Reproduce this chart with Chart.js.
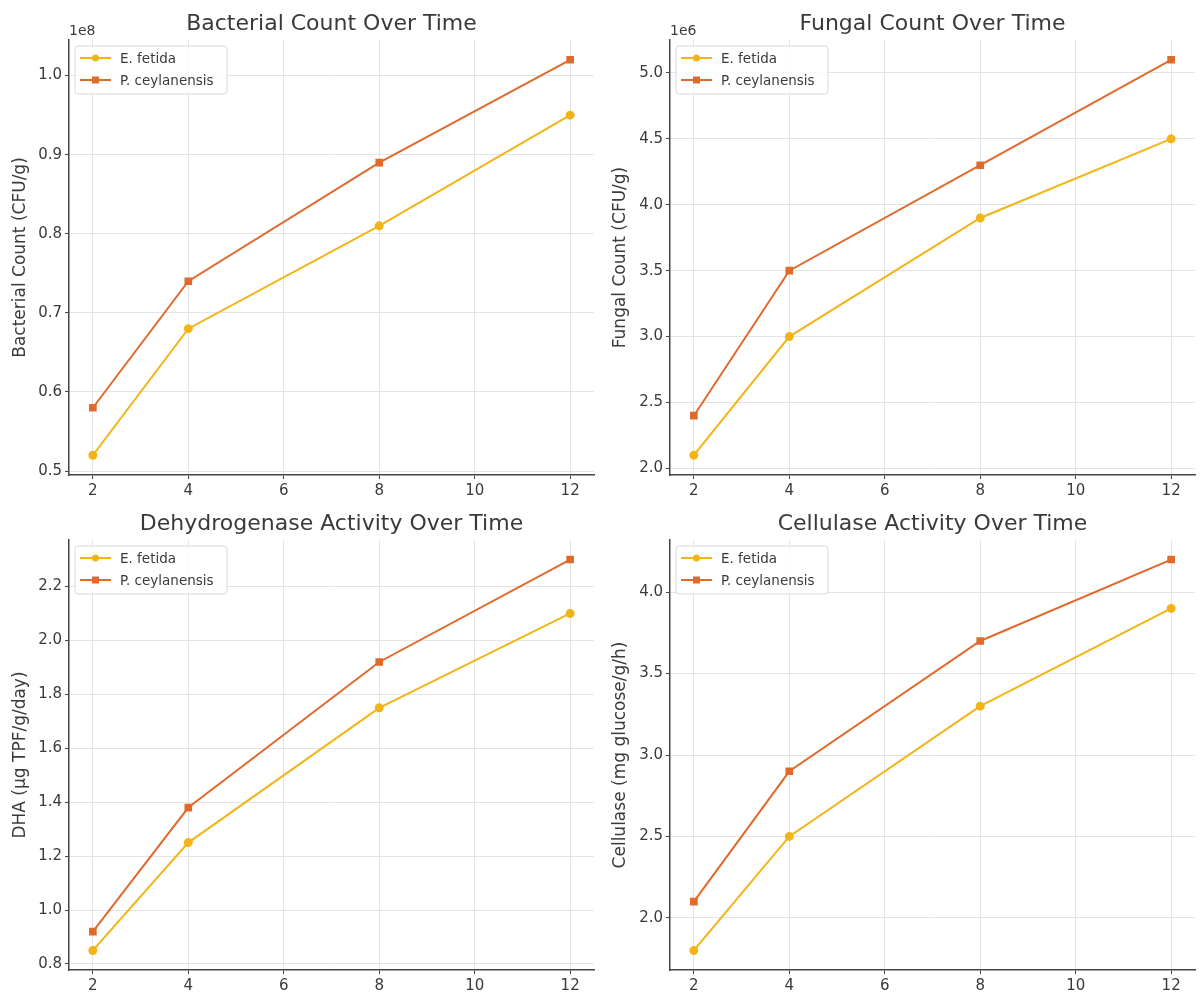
<!DOCTYPE html>
<html lang="en">
<head>
<meta charset="UTF-8">
<title>Microbial Counts and Enzyme Activity Over Time</title>
<script src="https://cdn.jsdelivr.net/npm/chart.js@4"></script>
<style>
  html, body { margin: 0; padding: 0; background: #fff; }
  #grid { position: relative; width: 1201px; height: 996px; }
  .panel { position: absolute; }
</style>
</head>
<body>
<div id="grid">
  <div class="panel" style="left:0;top:0;width:600px;height:498px"><canvas id="bacteria"></canvas></div>
  <div class="panel" style="left:600px;top:0;width:601px;height:498px"><canvas id="fungi"></canvas></div>
  <div class="panel" style="left:0;top:498px;width:600px;height:498px"><canvas id="dha"></canvas></div>
  <div class="panel" style="left:600px;top:498px;width:601px;height:498px"><canvas id="cellulase"></canvas></div>
</div>
<script>
// sampling weeks
const weeks = [2, 4, 8, 12];
const xTicks = [2, 4, 6, 8, 10, 12];
const seriesNames = ['E. fetida', 'P. ceylanensis'];

// bacterial count, CFU/g
const bacteriaEF = [52e6, 68e6, 81e6, 95e6];
const bacteriaPC = [58e6, 74e6, 89e6, 102e6];
const bacteriaTicks = [50e6, 60e6, 70e6, 80e6, 90e6, 100e6];

// fungal count, CFU/g
const fungiEF = [2.1e6, 3.0e6, 3.9e6, 4.5e6];
const fungiPC = [2.4e6, 3.5e6, 4.3e6, 5.1e6];
const fungiTicks = [2.0e6, 2.5e6, 3.0e6, 3.5e6, 4.0e6, 4.5e6, 5.0e6];

// dehydrogenase activity, µg TPF/g/day
const dhaEF = [0.85, 1.25, 1.75, 2.10];
const dhaPC = [0.92, 1.38, 1.92, 2.30];
const dhaTicks = [0.8, 1.0, 1.2, 1.4, 1.6, 1.8, 2.0, 2.2];

// cellulase activity, mg glucose/g/h
const cellEF = [1.8, 2.5, 3.3, 3.9];
const cellPC = [2.1, 2.9, 3.7, 4.2];
const cellTicks = [2.0, 2.5, 3.0, 3.5, 4.0];

const colorEF = '#f3b417';
const colorPC = '#e06a2c';
const textColor = '#3a3a3a';

Chart.defaults.font.family = '"DejaVu Sans", sans-serif';
Chart.defaults.color = textColor;

// matplotlib-ish extras: centred title, offset text (1e8), boxed legend
const mplExtras = {
  id: 'mplExtras',
  afterDatasetsDraw(chart, args, o) {
    const ctx = chart.ctx;
    const ca = chart.chartArea;
    ctx.save();
    ctx.fillStyle = textColor;
    ctx.font = '22px "DejaVu Sans"';
    ctx.textAlign = 'center';
    ctx.textBaseline = 'alphabetic';
    ctx.fillText(o.title, (ca.left + ca.right) / 2, ca.top - 10);

    ctx.textAlign = 'left';
    if (o.offset) {
      ctx.font = '14px "DejaVu Sans"';
      ctx.fillText(o.offset, ca.left, ca.top - 5);
    }

    // legend box
    const bx = ca.left + 6, by = ca.top + 6, bw = 152, bh = 48;
    ctx.beginPath();
    ctx.roundRect(bx, by, bw, bh, 3);
    ctx.fillStyle = 'rgba(255,255,255,0.85)';
    ctx.fill();
    ctx.strokeStyle = '#d9d9d9';
    ctx.lineWidth = 1;
    ctx.stroke();
    ctx.font = '13.5px "DejaVu Sans"';
    ctx.textBaseline = 'middle';
    chart.data.datasets.forEach((ds, i) => {
      const y = by + 12 + i * 22;
      ctx.strokeStyle = ds.borderColor;
      ctx.lineWidth = 2;
      ctx.beginPath();
      ctx.moveTo(bx + 5, y);
      ctx.lineTo(bx + 36, y);
      ctx.stroke();
      ctx.fillStyle = ds.pointBackgroundColor;
      if (ds.pointStyle === 'rect') {
        ctx.fillRect(bx + 20.5 - 3.5, y - 3.5, 7, 7);
      } else {
        ctx.beginPath();
        ctx.arc(bx + 20.5, y, 3.5, 0, Math.PI * 2);
        ctx.fill();
      }
      ctx.fillStyle = textColor;
      ctx.fillText(ds.label, bx + 45, y + 1);
    });
    ctx.restore();
  }
};

function toPoints(ys) {
  return weeks.map((w, i) => ({ x: w, y: ys[i] }));
}

function makePanel(id, cfg) {
  const all = cfg.ef.concat(cfg.pc);
  const lo = Math.min(...all), hi = Math.max(...all);
  const margin = (hi - lo) * 0.05;
  const canvasW = cfg.width, canvasH = 498;

  new Chart(document.getElementById(id), {
    type: 'line',
    data: {
      datasets: [
        {
          label: seriesNames[0],
          data: toPoints(cfg.ef),
          borderColor: colorEF,
          backgroundColor: colorEF,
          pointBackgroundColor: colorEF,
          pointBorderColor: colorEF,
          pointStyle: 'circle',
          pointRadius: 3.5,
          borderWidth: 2,
          tension: 0
        },
        {
          label: seriesNames[1],
          data: toPoints(cfg.pc),
          borderColor: colorPC,
          backgroundColor: colorPC,
          pointBackgroundColor: colorPC,
          pointBorderColor: colorPC,
          pointStyle: 'rect',
          pointRadius: 4,
          borderWidth: 2,
          tension: 0
        }
      ]
    },
    options: {
      responsive: true,
      maintainAspectRatio: false,
      animation: false,
      devicePixelRatio: 1,
      layout: {
        padding: { top: cfg.top, right: canvasW - cfg.right, bottom: 0, left: 0 }
      },
      plugins: {
        legend: { display: false },
        title: { display: false },
        tooltip: { enabled: false },
        mplExtras: { title: cfg.title, offset: cfg.offset }
      },
      scales: {
        x: {
          type: 'linear',
          min: 1.5,
          max: 12.5,
          afterBuildTicks: s => { s.ticks = xTicks.map(v => ({ value: v })); },
          afterFit: s => { s.height = canvasH - cfg.bottom; },
          ticks: { font: { size: 15 }, padding: 3, color: textColor },
          grid: { color: '#e4e4e4', tickColor: '#444', tickLength: 4 },
          border: { color: '#444', width: 1.5 }
        },
        y: {
          min: lo - margin,
          max: hi + margin,
          afterBuildTicks: s => { s.ticks = cfg.ticks.map(v => ({ value: v })); },
          afterFit: s => { s.width = cfg.left; },
          ticks: {
            font: { size: 15 },
            padding: 3,
            color: textColor,
            callback: v => (v / cfg.scale).toFixed(1)
          },
          grid: { color: '#e4e4e4', tickColor: '#444', tickLength: 4 },
          border: { color: '#444', width: 1.5 },
          title: {
            display: true,
            text: cfg.yLabel,
            font: { size: 17 },
            color: textColor,
            padding: { top: 10, bottom: 0 }
          }
        }
      }
    },
    plugins: [mplExtras]
  });
}

makePanel('bacteria', {
  title: 'Bacterial Count Over Time', yLabel: 'Bacterial Count (CFU/g)',
  ef: bacteriaEF, pc: bacteriaPC, ticks: bacteriaTicks, scale: 1e8, offset: '1e8',
  width: 600, left: 69, right: 600, top: 40, bottom: 475
});
makePanel('fungi', {
  title: 'Fungal Count Over Time', yLabel: 'Fungal Count (CFU/g)',
  ef: fungiEF, pc: fungiPC, ticks: fungiTicks, scale: 1e6, offset: '1e6',
  width: 601, left: 70, right: 599, top: 40, bottom: 475
});
makePanel('dha', {
  title: 'Dehydrogenase Activity Over Time', yLabel: 'DHA (µg TPF/g/day)',
  ef: dhaEF, pc: dhaPC, ticks: dhaTicks, scale: 1, offset: null,
  width: 600, left: 69, right: 600, top: 42, bottom: 472
});
makePanel('cellulase', {
  title: 'Cellulase Activity Over Time', yLabel: 'Cellulase (mg glucose/g/h)',
  ef: cellEF, pc: cellPC, ticks: cellTicks, scale: 1, offset: null,
  width: 601, left: 70, right: 599, top: 42, bottom: 472
});
</script>
</body>
</html>
